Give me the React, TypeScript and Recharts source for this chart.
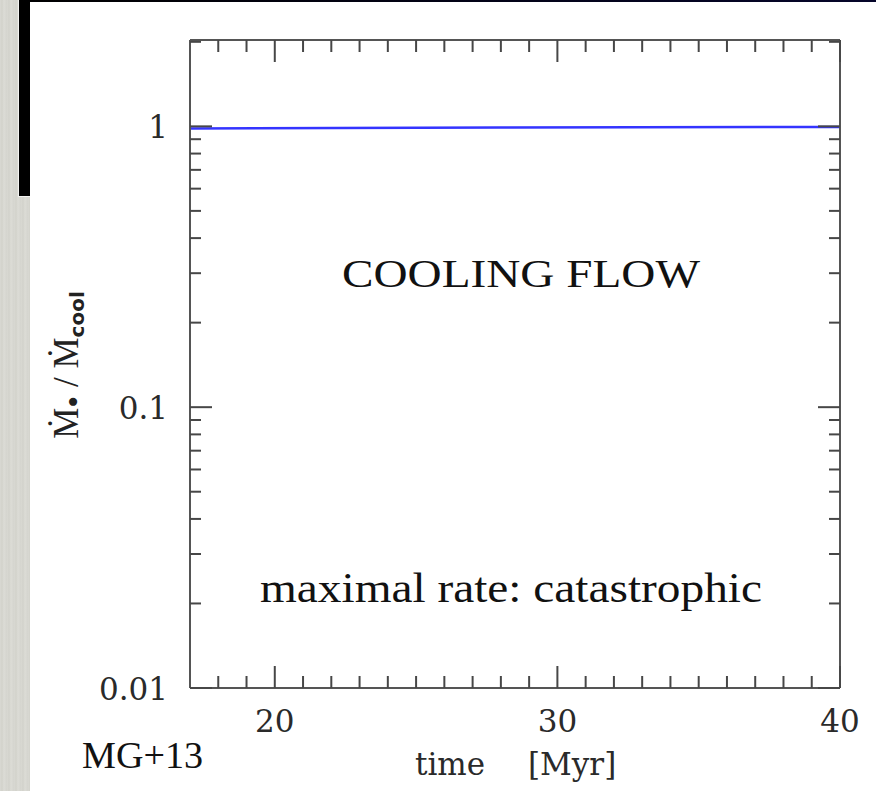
import { Line, LineChart, XAxis, YAxis } from "recharts";

// accretion rate over cooling rate, read along the run
const times = [17, 28, 40];
const accretionRatio = [0.982, 0.99, 0.995];

const xMajor = [20, 30, 40];
const xMinor = [18, 19, 21, 22, 23, 24, 25, 26, 27, 28, 29, 31, 32, 33, 34, 35, 36, 37, 38, 39];
const yMajor = [0.01, 0.1, 1];
const yMinor = [0.02, 0.03, 0.04, 0.05, 0.06, 0.07, 0.08, 0.09, 0.2, 0.3, 0.4, 0.5, 0.6, 0.7, 0.8, 0.9, 2];

const data = times.map((t, i) => ({ time: t, ratio: accretionRatio[i] }));

const xTicks = [...xMajor, ...xMinor].sort((a, b) => a - b);
const yTicks = [...yMajor, ...yMinor].sort((a, b) => a - b);

const FRAME = "#555";
const TICK = "#474747";
const LABEL_FONT = "'DejaVu Serif', serif";
const TEXT_FONT = "'Liberation Serif', serif";

// ticks point into the plot; only majors carry a number
function BottomTick(props: any) {
  const { x, y, payload } = props;
  const major = xMajor.includes(payload.value);
  return (
    <g>
      <line x1={x} x2={x} y1={y} y2={y - (major ? 22 : 12)} stroke={TICK} strokeWidth={2} />
      {major && (
        <text x={x} y={y + 44} textAnchor="middle" fontFamily={LABEL_FONT} fontSize={31} fill="#2a2a2a">
          {payload.value}
        </text>
      )}
    </g>
  );
}

function TopTick(props: any) {
  const { x, y, payload } = props;
  const major = xMajor.includes(payload.value);
  return <line x1={x} x2={x} y1={y} y2={y + (major ? 22 : 12)} stroke={TICK} strokeWidth={2} />;
}

function LeftTick(props: any) {
  const { x, y, payload } = props;
  const major = yMajor.includes(payload.value);
  return (
    <g>
      <line x1={x} x2={x + (major ? 22 : 11)} y1={y} y2={y} stroke={TICK} strokeWidth={2} />
      {major && (
        <text x={x - 22} y={y + 12} textAnchor="end" fontFamily={LABEL_FONT} fontSize={31} fill="#2a2a2a">
          {String(payload.value)}
        </text>
      )}
    </g>
  );
}

function RightTick(props: any) {
  const { x, y, payload } = props;
  const major = yMajor.includes(payload.value);
  return <line x1={x} x2={x - (major ? 22 : 11)} y1={y} y2={y} stroke={TICK} strokeWidth={2} />;
}

export default function App() {
  return (
    <div style={{ position: "absolute", left: 0, top: 0, width: 876, height: 791, background: "#fff", overflow: "hidden" }}>
      {/* slide edge */}
      <div
        style={{
          position: "absolute",
          left: 0,
          top: 0,
          width: 30,
          height: 791,
          background:
            "repeating-linear-gradient(90deg, #d9d9d3 0px, #d2d2cb 2px, #dcdcd6 4px, #d4d4ce 7px), #d6d6d0",
        }}
      />
      <div
        style={{
          position: "absolute",
          left: 18,
          top: 0,
          width: 11,
          height: 196,
          background: "#000",
          borderLeft: "1px solid #f2f2f0",
          borderBottom: "1px solid #f2f2f0",
        }}
      />
      <div
        style={{
          position: "absolute",
          left: 19,
          top: 0,
          width: 857,
          height: 2,
          background: "linear-gradient(90deg, #000, #05052a)",
        }}
      />
      <div style={{ position: "absolute", left: 0, top: 0 }}>
        <LineChart width={876} height={791} data={data} margin={{ top: 39, right: 35, bottom: 43, left: 90 }}>
          <XAxis
            xAxisId="b"
            dataKey="time"
            type="number"
            domain={[17, 40]}
            allowDataOverflow
            ticks={xTicks}
            interval={0}
            height={60}
            tickSize={0}
            tickMargin={0}
            tickLine={false}
            axisLine={{ stroke: FRAME, strokeWidth: 2 }}
            tick={BottomTick}
          />
          <XAxis
            xAxisId="t"
            orientation="top"
            dataKey="time"
            type="number"
            domain={[17, 40]}
            allowDataOverflow
            ticks={xTicks}
            interval={0}
            height={1}
            tickSize={0}
            tickMargin={0}
            tickLine={false}
            axisLine={{ stroke: FRAME, strokeWidth: 2 }}
            tick={TopTick}
          />
          <YAxis
            yAxisId="l"
            type="number"
            scale="log"
            domain={[0.01, 2.03]}
            allowDataOverflow
            ticks={yTicks}
            interval={0}
            width={100}
            tickSize={0}
            tickMargin={0}
            tickLine={false}
            axisLine={{ stroke: FRAME, strokeWidth: 2 }}
            tick={LeftTick}
          />
          <YAxis
            yAxisId="r"
            orientation="right"
            type="number"
            scale="log"
            domain={[0.01, 2.03]}
            allowDataOverflow
            ticks={yTicks}
            interval={0}
            width={1}
            tickSize={0}
            tickMargin={0}
            tickLine={false}
            axisLine={{ stroke: FRAME, strokeWidth: 2 }}
            tick={RightTick}
          />
          <Line
            xAxisId="b"
            yAxisId="l"
            dataKey="ratio"
            type="linear"
            stroke="#3434ff"
            strokeWidth={2.5}
            dot={false}
            isAnimationActive={false}
          />
          <text transform="translate(78,365) rotate(-90)" textAnchor="middle" fontFamily={TEXT_FONT} fontSize={35} fill="#222">
            <tspan>Ṁ</tspan>
            <tspan dy={7} fontSize={34}>•</tspan>
            <tspan dy={-7}> / Ṁ</tspan>
            <tspan dy={6} fontFamily="'DejaVu Sans', sans-serif" fontWeight="bold" fontSize={20}>cool</tspan>
          </text>
          <text y={775} fontFamily={LABEL_FONT} fontSize={31} fill="#2a2a2a">
            <tspan x={415}>time</tspan>
            <tspan x={528}>[Myr]</tspan>
          </text>
          <text x={342} y={287} fontFamily={TEXT_FONT} fontSize={41} textLength={358} lengthAdjust="spacingAndGlyphs" fill="#111">
            COOLING FLOW
          </text>
          <text x={260} y={602} fontFamily={TEXT_FONT} fontSize={43} textLength={502} lengthAdjust="spacingAndGlyphs" fill="#111">
            maximal rate: catastrophic
          </text>
          <text x={82} y={768} fontFamily={TEXT_FONT} fontSize={37} textLength={121} lengthAdjust="spacingAndGlyphs" fill="#111">
            MG+13
          </text>
        </LineChart>
      </div>
    </div>
  );
}
